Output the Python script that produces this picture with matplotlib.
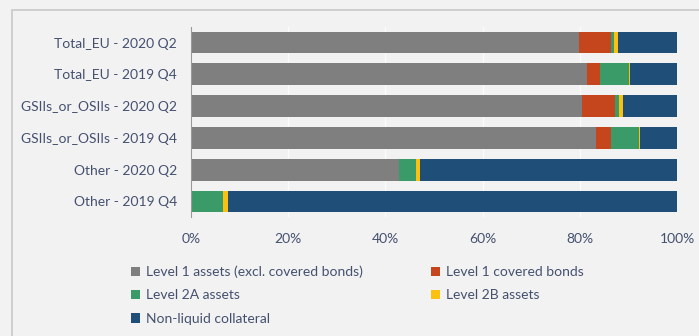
import matplotlib.pyplot as plt
from matplotlib.patches import Rectangle
from matplotlib.ticker import PercentFormatter

plt.rcParams['font.family'] = ['Lato', 'DejaVu Sans']

categories = ['Total_EU - 2020 Q2', 'Total_EU - 2019 Q4',
              'GSIIs_or_OSIIs - 2020 Q2', 'GSIIs_or_OSIIs - 2019 Q4',
              'Other - 2020 Q2', 'Other - 2019 Q4']

level1 = [79.8, 81.4, 80.5, 83.3, 42.8, 0.0]
level1_cb = [6.6, 2.8, 6.8, 3.2, 0.0, 0.0]
level2a = [0.6, 6.0, 0.8, 5.7, 3.5, 6.6]
level2b = [0.9, 0.1, 0.8, 0.1, 0.9, 1.1]
non_liquid = [12.1, 9.7, 11.1, 7.7, 52.8, 92.3]

series = [
    ('Level 1 assets (excl. covered bonds)', level1, '#7f7f7f'),
    ('Level 1 covered bonds', level1_cb, '#c5461c'),
    ('Level 2A assets', level2a, '#3b9b68'),
    ('Level 2B assets', level2b, '#fcc010'),
    ('Non-liquid collateral', non_liquid, '#1f4e79'),
]

bg = '#f2f2f2'
txt = '#44506e'

fig = plt.figure(figsize=(6.99, 3.36), dpi=100, facecolor=bg)
fig.patches.append(Rectangle((11.5 / 699, -0.1), 1.2, 0.1 + (336 - 9.5) / 336,
                             transform=fig.transFigure, fill=False,
                             edgecolor='#c9c9c9', linewidth=1.2))

ax = fig.add_axes([191 / 699, 1 - 217.4 / 336, 486 / 699, 190.8 / 336])
ax.set_facecolor(bg)

y = list(range(len(categories)))
left = [0.0] * len(categories)
handles = {}
for name, vals, col in series:
    h = ax.barh(y, vals, left=left, height=0.68, color=col, label=name, zorder=3)
    handles[name] = h
    left = [a + b for a, b in zip(left, vals)]

ax.set_xlim(0, 100)
ax.set_ylim(len(categories) - 0.5, -0.5)
ax.set_yticks(y)
ax.set_yticklabels(categories)
ax.set_xticks([0, 20, 40, 60, 80, 100])
ax.xaxis.set_major_formatter(PercentFormatter(decimals=0))
ax.tick_params(axis='both', length=0, labelsize=10, labelcolor=txt)
ax.tick_params(axis='y', pad=10)
ax.tick_params(axis='x', pad=11)
ax.grid(axis='x', color='#fbfbfb', linewidth=1, zorder=0)
for s in ['top', 'right', 'bottom']:
    ax.spines[s].set_visible(False)
ax.spines['left'].set_color('#9a9a9a')
ax.spines['left'].set_zorder(4)

order = ['Level 1 assets (excl. covered bonds)', 'Level 2A assets',
         'Non-liquid collateral', 'Level 1 covered bonds', 'Level 2B assets']
leg = fig.legend([handles[n] for n in order], order, ncol=2,
                 loc='upper left', bbox_to_anchor=(131 / 699, 1 - 265.5 / 336),
                 frameon=False, fontsize=10, labelcolor=txt,
                 handlelength=0.65, handleheight=0.65, handletextpad=0.4,
                 columnspacing=4.95, labelspacing=0.82, borderpad=0, borderaxespad=0)

fig.savefig('out.png', dpi=100, facecolor=bg)
